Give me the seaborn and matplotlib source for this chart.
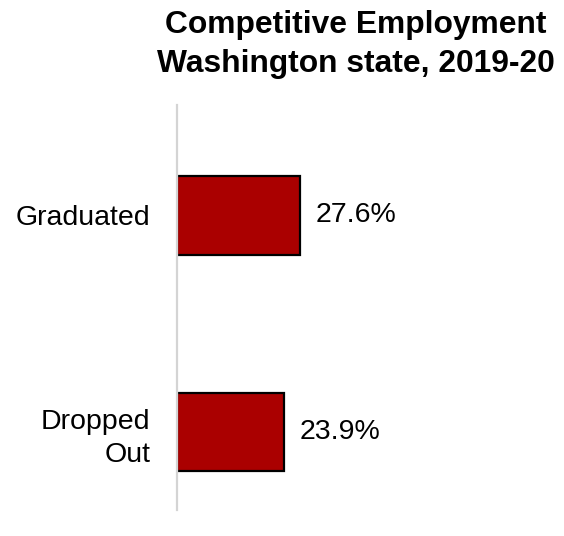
import matplotlib
matplotlib.use("Agg")
import matplotlib.pyplot as plt
import seaborn as sns
import pandas as pd

categories = ["Graduated", "Dropped\nOut"]
values = [27.6, 23.9]
value_labels = ["27.6%", "23.9%"]

sns.set_theme(style="white")
plt.rcParams["font.family"] = ["Liberation Sans", "DejaVu Sans"]

df = pd.DataFrame({"status": categories, "pct": values})

fig = plt.figure(figsize=(5.64, 5.36), dpi=100)
ax = fig.add_axes([177 / 564, 1 - 510 / 536, 300 / 564, 405 / 536])

sns.barplot(data=df, x="pct", y="status", orient="h", color="#AA0000",
            saturation=1, width=0.363, edgecolor="black", linewidth=1.6, ax=ax)

for i, (v, lab) in enumerate(zip(values, value_labels)):
    ax.text(v + 3.6, i, lab, ha="left", va="center", fontsize=20.5, color="black")

ax.set_xlim(0, 300 / 4.457)
ax.set_ylim(1.36, -0.51)
ax.set_xlabel("")
ax.set_ylabel("")
ax.set_xticks([])
ax.tick_params(axis="y", length=0, pad=19, labelsize=20.5, labelcolor="black")
for lab in ax.get_yticklabels():
    lab.set_horizontalalignment("right")
    lab.set_multialignment("right")
    lab.set_linespacing(1.36)

for side in ["top", "right", "bottom"]:
    ax.spines[side].set_visible(False)
ax.spines["left"].set_color("#d4d4d4")
ax.spines["left"].set_linewidth(1.6)

fig.text(356 / 564, 1 - 10 / 536, "Competitive Employment\nWashington state, 2019-20",
         ha="center", va="top", fontsize=22.9, fontweight="bold",
         linespacing=1.37, color="black")

fig.savefig("out.png", dpi=100)
